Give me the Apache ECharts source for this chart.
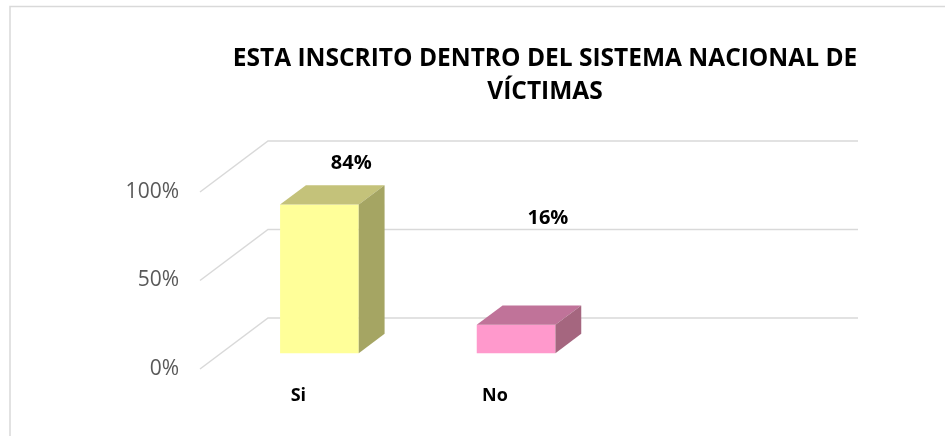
<!DOCTYPE html>
<html>
<head>
<meta charset="utf-8">
<script src="https://cdn.jsdelivr.net/npm/echarts@6/dist/echarts.min.js"></script>
<style>html,body{margin:0;padding:0;background:#fff;}#c{width:945px;height:436px;}</style>
</head>
<body>
<div id="c"></div>
<script>
const titleText = 'ESTA INSCRITO DENTRO DEL SISTEMA NACIONAL DE\nVÍCTIMAS';
const categories = ['Si', 'No', ''];
const values = [84, 16];
const valueLabels = ['84%', '16%'];
const yTicks = [0, 50, 100];

const FONT = '"Open Sans", "Noto Sans", sans-serif';
const DEPTH = [68, -51];
const BAR_FRONT = 0.31, BAR_BACK = 0.69;
const labelLift = [41, 107];
const faceColors = [
  { front: '#FFFF99', top: '#C4C27A', side: '#A5A563' },
  { front: '#FF99CC', top: '#C07399', side: '#A5667F' }
];

const chart = echarts.init(document.getElementById('c'), null, { renderer: 'canvas' });

function gridRender(params, api) {
  const cs = params.coordSys;
  const v = api.value(0);
  const p = api.coord([0, v]);
  const y = p[1];
  const x0 = cs.x;
  return {
    type: 'polyline',
    shape: { points: [[x0, y], [x0 + DEPTH[0], y + DEPTH[1]], [cs.x + cs.width + DEPTH[0], y + DEPTH[1]]] },
    style: { stroke: '#D9D9D9', lineWidth: 1.5, fill: null },
    silent: true
  };
}

function barRender(params, api) {
  const i = api.value(0);
  const v = api.value(1);
  const base = api.coord([i, 0]);
  const top = api.coord([i, v]);
  const bw = api.size([1, 0])[0];
  const w = bw * 0.4;
  const fx = DEPTH[0] * BAR_FRONT, fy = DEPTH[1] * BAR_FRONT;
  const dx = DEPTH[0] * (BAR_BACK - BAR_FRONT), dy = DEPTH[1] * (BAR_BACK - BAR_FRONT);
  const L = base[0] - w / 2 + fx, R = base[0] + w / 2 + fx;
  const T = top[1] + fy, B = base[1] + fy;
  const c = faceColors[params.dataIndex];
  return {
    type: 'group',
    children: [
      { type: 'rect', shape: { x: L, y: T, width: R - L, height: B - T }, style: { fill: c.front } },
      { type: 'polygon', shape: { points: [[L, T], [R, T], [R + dx, T + dy], [L + dx, T + dy]] }, style: { fill: c.top } },
      { type: 'polygon', shape: { points: [[R, T], [R + dx, T + dy], [R + dx, B + dy], [R, B]] }, style: { fill: c.side } },
      { type: 'text', style: { text: valueLabels[params.dataIndex], x: (L + R) / 2 + dx + 6, y: T - labelLift[params.dataIndex], align: 'center', verticalAlign: 'middle', font: 'bold 20px ' + FONT, fill: '#000' } }
    ]
  };
}

chart.setOption({
  backgroundColor: '#fff',
  animation: false,
  title: {
    text: titleText,
    left: 540, top: 38, textAlign: 'center',
    textStyle: { fontFamily: FONT, fontWeight: 'bold', fontSize: 24.5, lineHeight: 33, color: '#000' }
  },
  graphic: [
    { type: 'polyline', shape: { points: [[10, 436], [10, 6.5], [945, 6.5]] }, style: { stroke: '#D9D9D9', lineWidth: 1.5, fill: null } }
  ],
  grid: { left: 200, right: 155, top: 192, bottom: 67 },
  xAxis: {
    type: 'category', data: categories,
    axisLine: { show: false }, axisTick: { show: false }, splitLine: { show: false },
    axisLabel: { margin: 18, fontFamily: FONT, fontWeight: 'bold', fontSize: 18, color: '#000' }
  },
  yAxis: {
    type: 'value', min: 0, max: 100, interval: 50,
    axisLine: { show: false }, axisTick: { show: false }, splitLine: { show: false },
    axisLabel: { margin: 21, formatter: '{value}%', fontFamily: FONT, fontSize: 21, color: '#595959' }
  },
  series: [
    { type: 'custom', renderItem: gridRender, data: yTicks.map(v => [v]), encode: { y: 0 }, z: 1 },
    { type: 'custom', renderItem: barRender, data: values.map((v, i) => [i, v]), encode: { x: 0, y: 1 }, z: 2 }
  ]
});
</script>
</body>
</html>
